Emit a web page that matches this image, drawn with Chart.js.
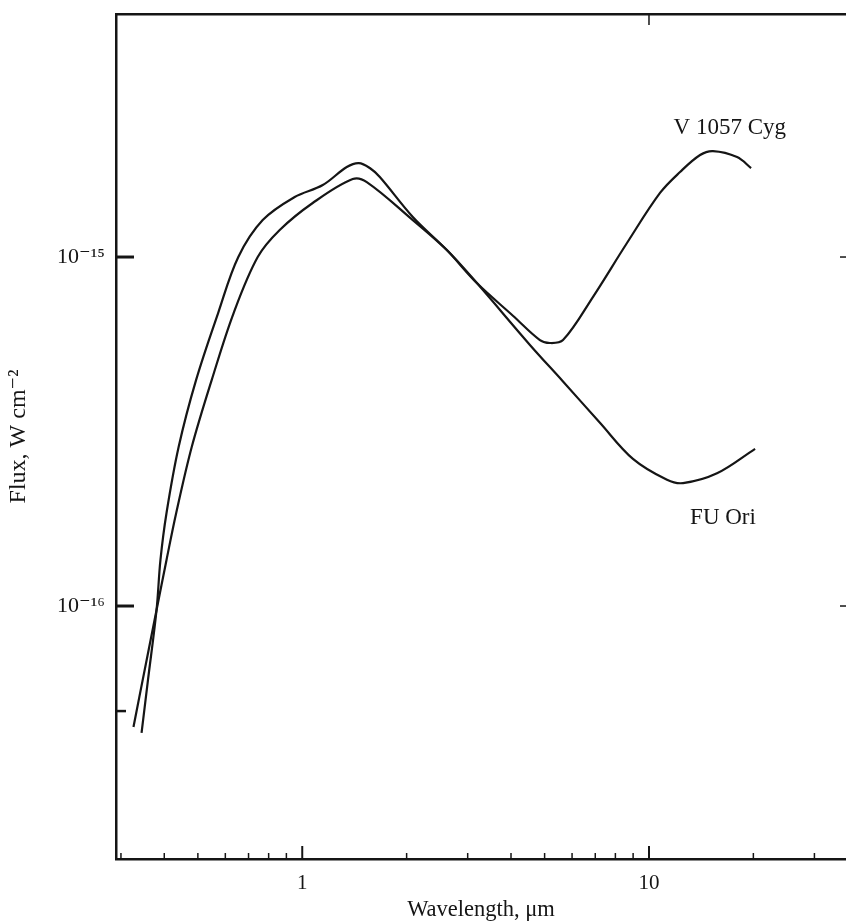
<!DOCTYPE html>
<html>
<head>
<meta charset="utf-8">
<title>FU Ori and V 1057 Cyg energy distributions</title>
<script src="https://cdn.jsdelivr.net/npm/chart.js@4.4.1/dist/chart.umd.min.js"></script>
<style>
  html, body { margin: 0; padding: 0; background: #fff; }
  #sedChart { display: block; }
</style>
</head>
<body>
<canvas id="sedChart" width="846" height="923"></canvas>
<script>
// wavelength in micron, flux in W cm^-2
const cygWavelength = [0.344, 0.359, 0.380, 0.390, 0.406, 0.440, 0.494, 0.572, 0.654, 0.769, 0.951,
  1.146, 1.344, 1.456, 1.566, 1.674, 2.084, 2.612, 3.189, 4.051, 4.847, 5.18, 5.65, 6.89, 8.64,
  10.76, 12.29, 14.04, 15.3, 17.95, 19.7];
const cygFlux = [4.33e-17, 6.14e-17, 9.74e-17, 1.355e-16, 1.847e-16, 2.855e-16, 4.44e-16, 6.91e-16,
  1.0e-15, 1.276e-15, 1.486e-15, 1.608e-15, 1.811e-15, 1.859e-15, 1.799e-15, 1.695e-15, 1.302e-15,
  1.047e-15, 8.42e-16, 6.79e-16, 5.78e-16, 5.67e-16, 5.78e-16, 7.68e-16, 1.097e-15, 1.526e-15,
  1.752e-15, 1.96e-15, 2.012e-15, 1.934e-15, 1.799e-15];

const oriWavelength = [0.326, 0.339, 0.380, 0.406, 0.433, 0.480, 0.548, 0.634, 0.744, 0.861, 1.072,
  1.398, 1.535, 2.084, 2.612, 3.189, 4.536, 5.65, 7.22, 8.99, 11.27, 12.54, 15.71, 20.23];
const oriFlux = [4.50e-17, 5.49e-17, 9.74e-17, 1.355e-16, 1.847e-16, 2.855e-16, 4.44e-16, 6.91e-16,
  1.0e-15, 1.195e-15, 1.428e-15, 1.673e-15, 1.640e-15, 1.276e-15, 1.047e-15, 8.42e-16, 5.60e-16,
  4.40e-16, 3.35e-16, 2.64e-16, 2.30e-16, 2.25e-16, 2.40e-16, 2.82e-16];

const xTicks = [0.3, 0.4, 0.5, 0.6, 0.7, 0.8, 0.9, 1, 2, 3, 4, 5, 6, 7, 8, 9, 10, 20, 30];
const xMajor = [1, 10];
const xTopTicks = [10];
const xTickLabels = { 1: '1', 10: '10' };
const yTicks = [5e-17, 1e-16, 1e-15];
const yMajor = [1e-16, 1e-15];
const yTickLabels = { '1e-16': '10\u207B\u00B9\u2076', '1e-15': '10\u207B\u00B9\u2075' };

const curveLabels = [
  { text: 'V 1057 Cyg', x: 17.1, y: 2.34e-15 },
  { text: 'FU Ori', x: 16.35, y: 1.787e-16 }
];

const serif = '"Liberation Serif", "DejaVu Serif", serif';
const ink = '#151515';

function toPoints(xs, ys) {
  return xs.map((x, i) => ({ x: x, y: ys[i] }));
}

// tick marks in the figure point inward, so draw them over the plot
const inwardTicks = {
  id: 'inwardTicks',
  afterDatasetsDraw(chart) {
    const { ctx, chartArea, scales } = chart;
    ctx.save();
    ctx.strokeStyle = ink;
    ctx.lineCap = 'butt';
    xTicks.forEach((v) => {
      const px = scales.x.getPixelForValue(v);
      const major = xMajor.includes(v);
      ctx.lineWidth = major ? 2 : 1.5;
      ctx.beginPath();
      ctx.moveTo(px, chartArea.bottom);
      ctx.lineTo(px, chartArea.bottom - (major ? 13 : 6));
      ctx.stroke();
    });
    xTopTicks.forEach((v) => {
      const px = scales.x.getPixelForValue(v);
      ctx.lineWidth = 1.5;
      ctx.beginPath();
      ctx.moveTo(px, chartArea.top);
      ctx.lineTo(px, chartArea.top + 11);
      ctx.stroke();
    });
    yTicks.forEach((v) => {
      const py = scales.y.getPixelForValue(v);
      const major = yMajor.includes(v);
      ctx.lineWidth = major ? 3 : 2.5;
      ctx.beginPath();
      ctx.moveTo(chartArea.left, py);
      ctx.lineTo(chartArea.left + (major ? 18 : 10), py);
      ctx.stroke();
      if (major) {
        // stubs of the right-hand axis ticks, whose axis lies just off the page
        ctx.lineWidth = 1.5;
        ctx.beginPath();
        ctx.moveTo(chartArea.right, py);
        ctx.lineTo(chartArea.right - 6, py);
        ctx.stroke();
      }
    });
    ctx.restore();
  }
};

const curveNames = {
  id: 'curveNames',
  afterDatasetsDraw(chart) {
    const { ctx, scales } = chart;
    ctx.save();
    ctx.fillStyle = ink;
    ctx.font = '23px ' + serif;
    ctx.textAlign = 'center';
    ctx.textBaseline = 'middle';
    curveLabels.forEach((l) => {
      ctx.fillText(l.text, scales.x.getPixelForValue(l.x), scales.y.getPixelForValue(l.y));
    });
    ctx.restore();
  }
};

function drawChart() {
  const canvas = document.getElementById('sedChart');
  if (!canvas) return;
  const ctx = canvas.getContext('2d');
  const lineStyle = {
    borderColor: ink,
    borderWidth: 2.2,
    pointRadius: 0,
    fill: false,
    tension: 0.35
  };

  new Chart(ctx, {
    type: 'line',
    data: {
      datasets: [
        Object.assign({ label: 'V 1057 Cyg', data: toPoints(cygWavelength, cygFlux) }, lineStyle),
        Object.assign({ label: 'FU Ori', data: toPoints(oriWavelength, oriFlux) }, lineStyle)
      ]
    },
    options: {
      responsive: false,
      animation: false,
      devicePixelRatio: 1,
      layout: { padding: 0 },
      plugins: {
        legend: { display: false },
        tooltip: { enabled: false }
      },
      scales: {
        x: {
          type: 'logarithmic',
          position: 'bottom',
          min: 0.2903,
          max: 37,
          bounds: 'data',
          border: { display: true, color: ink, width: 2.5 },
          grid: { drawOnChartArea: false, drawTicks: false },
          afterBuildTicks: (scale) => { scale.ticks = xTicks.map((v) => ({ value: v })); },
          afterFit: (scale) => {
            scale.height = 64;
            scale.paddingLeft = 0;
            scale.paddingRight = 0;
          },
          ticks: {
            autoSkip: false,
            maxRotation: 0,
            padding: 12,
            color: ink,
            font: { family: serif, size: 21 },
            callback: (v) => xTickLabels[v] || ''
          },
          title: {
            display: true,
            text: 'Wavelength, \u03BCm',
            color: ink,
            font: { family: serif, size: 22.5 },
            padding: { top: 0, bottom: -1 }
          }
        },
        xTop: {
          type: 'logarithmic',
          position: 'top',
          min: 0.2903,
          max: 37,
          border: { display: true, color: ink, width: 2.5 },
          grid: { drawOnChartArea: false, drawTicks: false },
          ticks: { display: false },
          afterFit: (scale) => {
            scale.height = 14;
            scale.paddingLeft = 0;
            scale.paddingRight = 0;
          }
        },
        y: {
          type: 'logarithmic',
          position: 'left',
          min: 1.884e-17,
          max: 4.97e-15,
          bounds: 'data',
          border: { display: true, color: ink, width: 2.5 },
          grid: { drawOnChartArea: false, drawTicks: false },
          afterBuildTicks: (scale) => { scale.ticks = yTicks.map((v) => ({ value: v })); },
          afterFit: (scale) => {
            scale.width = 116;
            scale.paddingTop = 0;
            scale.paddingBottom = 0;
          },
          ticks: {
            autoSkip: false,
            padding: 11,
            color: ink,
            font: { family: serif, size: 22 },
            callback: (v) => yTickLabels[Number(v).toExponential(0)] || ''
          },
          title: {
            display: true,
            text: 'Flux, W cm\u207B\u00B2',
            color: ink,
            font: { family: serif, size: 24 },
            padding: { top: 4, bottom: 0 }
          }
        }
      }
    },
    plugins: [inwardTicks, curveNames]
  });
}

document.addEventListener('DOMContentLoaded', () => {
  drawChart();
});
</script>
</body>
</html>
